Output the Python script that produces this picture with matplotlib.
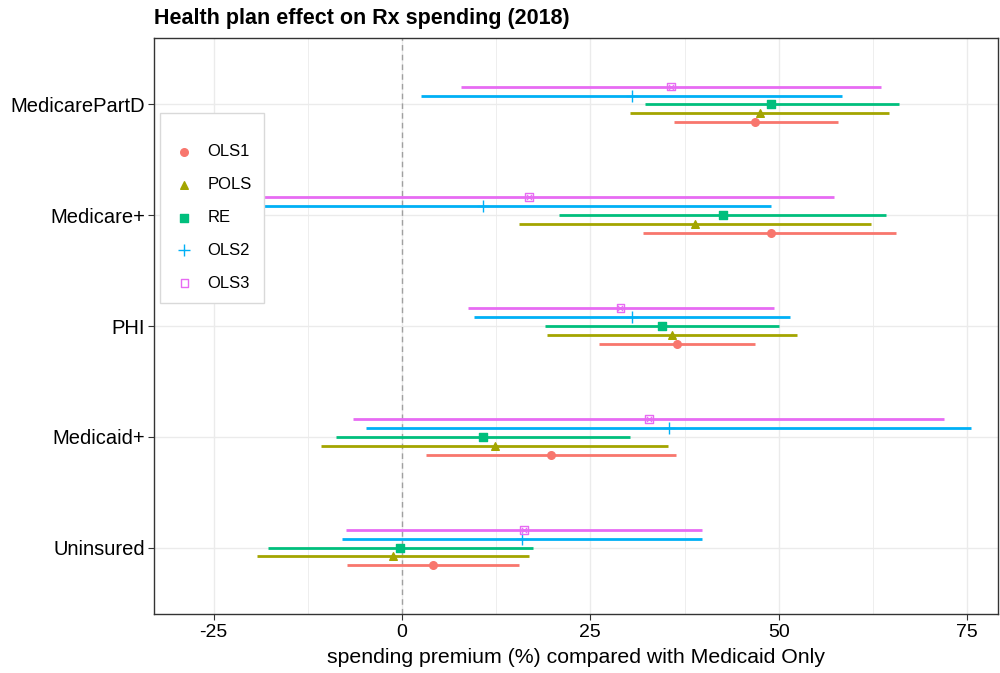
import matplotlib.pyplot as plt
import numpy as np

plt.rcParams['font.family'] = ['Liberation Sans', 'DejaVu Sans']

categories = ['Uninsured', 'Medicaid+', 'PHI', 'Medicare+', 'MedicarePartD']
models = ['OLS1', 'POLS', 'RE', 'OLS2', 'OLS3']

# point estimate, lower, upper (per category, bottom to top)
est = {
    'OLS1': [4.1, 19.8, 36.5, 49.0, 46.9],
    'POLS': [-1.2, 12.3, 35.9, 38.9, 47.5],
    'RE':   [-0.2, 10.8, 34.5, 42.6, 49.0],
    'OLS2': [15.9, 35.4, 30.5, 10.7, 30.5],
    'OLS3': [16.2, 32.8, 29.0, 16.9, 35.7],
}
lower = {
    'OLS1': [-7.3, 3.2, 26.2, 32.0, 36.1],
    'POLS': [-19.2, -10.7, 19.3, 15.6, 30.3],
    'RE':   [-17.8, -8.8, 19.0, 20.9, 32.3],
    'OLS2': [-8.0, -4.8, 9.6, -27.6, 2.5],
    'OLS3': [-7.4, -6.5, 8.8, -23.6, 7.8],
}
upper = {
    'OLS1': [15.5, 36.4, 46.8, 65.6, 57.9],
    'POLS': [16.9, 35.3, 52.4, 62.2, 64.6],
    'RE':   [17.4, 30.3, 50.0, 64.2, 65.9],
    'OLS2': [39.8, 75.5, 51.5, 49.0, 58.4],
    'OLS3': [39.8, 72.0, 49.4, 57.4, 63.6],
}

colors = ['#F8766D', '#A3A500', '#00BF7D', '#00B0F6', '#E76BF3']
markers = ['o', '^', 's', '+', 's']

fig = plt.figure(figsize=(10, 6.73), dpi=100)
ax = fig.add_axes([0.154, 0.0877, 0.844, 0.8558])

ax.axvline(0, color='#A0A0A0', linestyle=(0, (4, 3)), linewidth=1, zorder=1)

y = np.arange(1, len(categories) + 1)
handles = []
for i, m in enumerate(models):
    off = (i - 2) * 0.081
    yy = y + off
    ax.hlines(yy, lower[m], upper[m], color=colors[i], linewidth=2, zorder=3)
    if m == 'OLS3':
        h = ax.scatter(est[m], yy, marker='s', s=32, facecolors='none',
                       edgecolors=colors[i], linewidths=1, zorder=4)
        ax.scatter(est[m], yy, marker='x', s=14, color=colors[i], linewidths=0.8, zorder=4)
    elif m == 'OLS2':
        h = ax.scatter(est[m], yy, marker='+', s=80, color=colors[i], linewidths=1, zorder=4)
    else:
        h = ax.scatter(est[m], yy, marker=markers[i], s=30, color=colors[i], zorder=4)
    handles.append(h)

ax.set_xlim(-32.9, 79.1)
ax.set_ylim(0.4, 5.6)
ax.set_yticks(y)
ax.set_yticklabels(categories, fontsize=14.5, color='black')
ax.set_xticks([-25, 0, 25, 50, 75])
ax.set_xticklabels(['-25', '0', '25', '50', '75'], fontsize=14, color='black')
ax.set_xticks([-12.5, 12.5, 37.5, 62.5], minor=True)
ax.grid(True, which='major', color='#EBEBEB', linewidth=1, zorder=0)
ax.grid(True, which='minor', axis='x', color='#EBEBEB', linewidth=0.6, zorder=0)
ax.set_axisbelow(True)
ax.tick_params(axis='both', which='major', length=4, color='#333333')
ax.tick_params(axis='y', which='major', pad=2.5)
ax.tick_params(axis='both', which='minor', length=0)
for s in ax.spines.values():
    s.set_color('#333333')
    s.set_linewidth(1)

ax.set_xlabel('spending premium (%) compared with Medicaid Only', fontsize=15.3, labelpad=5)
fig.text(0.154, 0.957, 'Health plan effect on Rx spending (2018)', fontsize=15.5,
         fontweight='bold', ha='left', va='bottom')

leg = ax.legend(handles, models, loc='upper left', bbox_to_anchor=(0.0071, 0.870),
                fontsize=12, frameon=True, fancybox=False, edgecolor='#D9D9D9',
                framealpha=1, borderpad=0.75, labelspacing=1.07, handletextpad=0.66,
                handlelength=1.44, borderaxespad=0, title=' ', title_fontsize=1)
leg.get_frame().set_linewidth(1)
leg.set_zorder(10)

fig.savefig('out.png', dpi=100)
